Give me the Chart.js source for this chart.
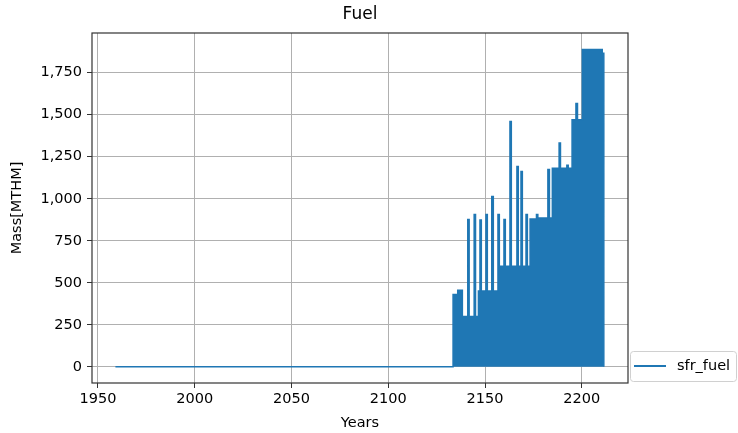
<!DOCTYPE html>
<html>
<head>
<meta charset="utf-8">
<title>Fuel</title>
<script src="https://cdn.jsdelivr.net/npm/chart.js@4/dist/chart.umd.min.js"></script>
<style>
  html, body { margin: 0; padding: 0; background: #fff; }
  #wrap { width: 738px; height: 433px; }
</style>
</head>
<body>
<div id="wrap"><canvas id="fuel-chart" width="738" height="433"></canvas></div>
<script>
  // step points: each mass holds from its year until the next year
  const years = [
    1959.0, 2133.5, 2135.9, 2138.3, 2141.1, 2141.8, 2144.4, 2145.1, 2146.6,
    2147.4, 2148.1, 2150.5, 2151.2, 2153.5, 2154.3, 2156.7, 2157.4, 2159.8,
    2160.5, 2162.9, 2163.6, 2166.5, 2167.2, 2168.6, 2169.3, 2171.2, 2171.9,
    2173.3, 2176.6, 2177.3, 2182.5, 2183.3, 2184.8, 2188.3, 2189.0, 2192.3,
    2193.0, 2195.0, 2197.0, 2197.8, 2200.3, 2210.6, 2211.4
  ];
  const mass = [
    0, 431, 455, 300, 877, 300, 907, 300, 451,
    873, 451, 907, 451, 1014, 451, 907, 599, 877,
    599, 1459, 599, 1192, 599, 1162, 599, 907, 599,
    880, 906, 885, 1174, 885, 1182, 1332, 1182, 1200,
    1182, 1470, 1566, 1470, 1888, 1866, 0
  ];
  const seriesLabel = "sfr_fuel";
  const xTicks = [1950, 2000, 2050, 2100, 2150, 2200];
  const yTicks = [0, 250, 500, 750, 1000, 1250, 1500, 1750];

  const FONT = "'DejaVu Sans', sans-serif";
  const BLUE = "#1f77b4";

  // title, frame and the outside legend, matplotlib style
  const mplDecor = {
    id: "mplDecor",
    afterDraw(chart) {
      const { ctx, chartArea: a } = chart;
      ctx.save();
      ctx.strokeStyle = "#333";
      ctx.lineWidth = 1.2;
      ctx.strokeRect(a.left, a.top, a.right - a.left, a.bottom - a.top);

      ctx.fillStyle = "#000";
      ctx.font = "17px " + FONT;
      ctx.textAlign = "center";
      ctx.textBaseline = "middle";
      ctx.fillText("Fuel", (a.left + a.right) / 2, 15);

      // legend box, lower left corner anchored at the right of the axes
      const lx = a.right + 2, ly = a.bottom - 32, lw = 106, lh = 30;
      ctx.beginPath();
      ctx.roundRect(lx + 0.5, ly + 0.5, lw, lh, 3);
      ctx.fillStyle = "rgba(255,255,255,0.8)";
      ctx.fill();
      ctx.strokeStyle = "#d0d0d0";
      ctx.lineWidth = 1;
      ctx.stroke();

      ctx.beginPath();
      ctx.moveTo(lx + 4, ly + 15);
      ctx.lineTo(lx + 36, ly + 15);
      ctx.strokeStyle = BLUE;
      ctx.lineWidth = 2;
      ctx.stroke();

      ctx.fillStyle = "#000";
      ctx.font = "14.5px " + FONT;
      ctx.textAlign = "left";
      ctx.fillText(seriesLabel, lx + 47, ly + 15);
      ctx.restore();
    },
  };

  new Chart(document.getElementById("fuel-chart"), {
    type: "line",
    data: {
      datasets: [
        {
          label: seriesLabel,
          data: years.map((y, i) => ({ x: y, y: mass[i] })),
          borderColor: BLUE,
          backgroundColor: BLUE,
          borderWidth: 1.5,
          pointRadius: 0,
          stepped: true,
          fill: "origin",
        },
      ],
    },
    options: {
      responsive: false,
      animation: false,
      layout: { padding: { top: 33, right: 110, bottom: 0, left: 0 } },
      plugins: {
        legend: { display: false },
        title: { display: false },
        tooltip: { enabled: false },
      },
      scales: {
        x: {
          type: "linear",
          min: 1946.9,
          max: 2223.9,
          afterBuildTicks: (s) => { s.ticks = xTicks.map((v) => ({ value: v })); },
          afterFit: (s) => { s.height = 50; },
          grid: { color: "#b0b0b0", lineWidth: 1, tickLength: 5, tickColor: "#333" },
          border: { display: false },
          ticks: {
            color: "#000",
            padding: 3,
            maxRotation: 0,
            font: { family: FONT, size: 14.5 },
            callback: (v) => String(v),
          },
          title: {
            display: true,
            text: "Years",
            color: "#000",
            font: { family: FONT, size: 14.5 },
            padding: { top: 0, bottom: 1 },
          },
        },
        y: {
          min: -96,
          max: 1986,
          afterBuildTicks: (s) => { s.ticks = yTicks.map((v) => ({ value: v })); },
          afterFit: (s) => { s.width = 92; },
          grid: { color: "#b0b0b0", lineWidth: 1, tickLength: 5, tickColor: "#333" },
          border: { display: false },
          ticks: {
            color: "#000",
            padding: 5,
            font: { family: FONT, size: 14.5 },
            callback: (v) => v.toLocaleString("en-US"),
          },
          title: {
            display: true,
            text: "Mass[MTHM]",
            color: "#000",
            font: { family: FONT, size: 14.5 },
            padding: { top: 9, bottom: 0 },
          },
        },
      },
    },
    plugins: [mplDecor],
  });
</script>
</body>
</html>
